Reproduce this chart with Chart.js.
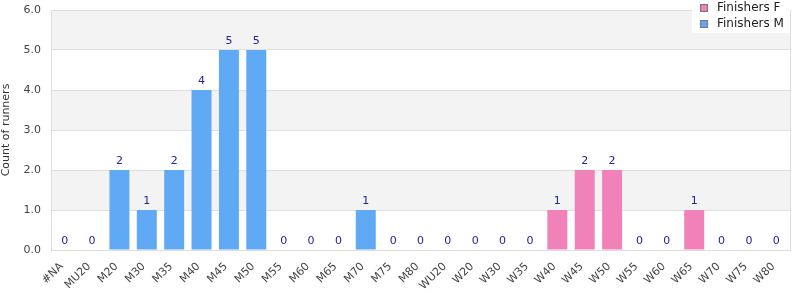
<!DOCTYPE html>
<html>
<head>
<meta charset="utf-8">
<script src="https://cdn.jsdelivr.net/npm/chart.js@4"></script>
<style>
  html, body { margin: 0; padding: 0; background: #fff; }
  #wrap { width: 800px; height: 300px; }
</style>
</head>
<body>
<div id="wrap"><canvas id="chart"></canvas></div>
<script>
// Categories (age groups)
const categories = ['#NA', 'MU20', 'M20', 'M30', 'M35', 'M40', 'M45', 'M50', 'M55', 'M60', 'M65', 'M70', 'M75', 'M80',
    'WU20', 'W20', 'W30', 'W35', 'W40', 'W45', 'W50', 'W55', 'W60', 'W65', 'W70', 'W75', 'W80'];

// Series values
const finishersF = [0, 0, 0, 0, 0, 0, 0, 0, 0, 0, 0, 0, 0, 0, 0, 0, 0, 0, 1, 2, 2, 0, 0, 1, 0, 0, 0];
const finishersM = [0, 0, 2, 1, 2, 4, 5, 5, 0, 0, 0, 1, 0, 0, 0, 0, 0, 0, 0, 0, 0, 0, 0, 0, 0, 0, 0];

// Y axis ticks
const yTicks = [0, 1, 2, 3, 4, 5, 6];

const FONT = 'DejaVu Sans';
const colorF = '#f182b9';
const colorM = '#60a9f4';
const bandColor = '#f3f3f3';
const gridColor = '#dedede';

// Alternating background bands behind the bars
const bandsPlugin = {
    id: 'bands',
    beforeDraw(chart) {
        const { ctx, chartArea, scales } = chart;
        const y = scales.y;
        ctx.save();
        ctx.fillStyle = '#fff';
        ctx.fillRect(chartArea.left, chartArea.top, chartArea.width, chartArea.height);
        ctx.fillStyle = bandColor;
        for (let i = 1; i < yTicks.length - 1; i += 2) {
            const top = y.getPixelForValue(yTicks[i + 1]);
            const bottom = y.getPixelForValue(yTicks[i]);
            ctx.fillRect(chartArea.left, top, chartArea.width, bottom - top);
        }
        ctx.restore();
    },
    afterDraw(chart) {
        // right border of plot area
        const { ctx, chartArea } = chart;
        ctx.save();
        ctx.strokeStyle = gridColor;
        ctx.lineWidth = 1;
        ctx.beginPath();
        ctx.moveTo(Math.round(chartArea.right) + 0.5, chartArea.top);
        ctx.lineTo(Math.round(chartArea.right) + 0.5, chartArea.bottom);
        ctx.stroke();
        ctx.restore();
    }
};

// Totals above each stack
const totalsPlugin = {
    id: 'totals',
    afterDatasetsDraw(chart) {
        const { ctx, scales } = chart;
        ctx.save();
        ctx.font = '11px "' + FONT + '"';
        ctx.fillStyle = '#22229a';
        ctx.textAlign = 'center';
        ctx.textBaseline = 'bottom';
        categories.forEach((c, i) => {
            const total = finishersF[i] + finishersM[i];
            const x = scales.x.getPixelForValue(i);
            const y = scales.y.getPixelForValue(total);
            ctx.fillText(String(total), x, y - 3);
        });
        ctx.restore();
    }
};

// Legend drawn inside the top-right corner of the plot
const legendPlugin = {
    id: 'cornerLegend',
    afterDraw(chart) {
        const { ctx, chartArea } = chart;
        const items = chart.data.datasets.map(d => ({ label: d.label, color: d.backgroundColor }));
        const boxW = 98;
        const left = chartArea.right - boxW;
        ctx.save();
        ctx.fillStyle = '#fff';
        ctx.fillRect(left, 0, boxW, 33);
        ctx.font = '12px "' + FONT + '"';
        ctx.textBaseline = 'middle';
        items.forEach((it, k) => {
            const cy = 8 + k * 16;
            ctx.fillStyle = it.color;
            ctx.fillRect(left + 8.5, cy - 3.5, 7, 7);
            ctx.strokeStyle = '#777';
            ctx.lineWidth = 1;
            ctx.strokeRect(left + 8.5, cy - 3.5, 7, 7);
            ctx.fillStyle = '#222';
            ctx.fillText(it.label, left + 25, cy);
        });
        ctx.restore();
    }
};

new Chart(document.getElementById('chart'), {
    type: 'bar',
    data: {
        labels: categories,
        datasets: [
            { label: 'Finishers F', data: finishersF, backgroundColor: colorF, borderWidth: 0 },
            { label: 'Finishers M', data: finishersM, backgroundColor: colorM, borderWidth: 0 }
        ]
    },
    options: {
        responsive: true,
        maintainAspectRatio: false,
        animation: false,
        layout: { padding: { top: 10, right: 10, left: 0, bottom: 0 } },
        datasets: { bar: { categoryPercentage: 1, barPercentage: 0.73 } },
        plugins: {
            legend: { display: false },
            tooltip: { enabled: false }
        },
        scales: {
            x: {
                stacked: true,
                grid: { display: false },
                border: { display: true, color: gridColor },
                ticks: {
                    autoSkip: false,
                    minRotation: 45,
                    maxRotation: 45,
                    padding: 2,
                    labelOffset: -3,
                    color: '#444',
                    font: { family: FONT, size: 11 }
                },
                afterFit(scale) { scale.height = 50; }
            },
            y: {
                stacked: true,
                min: 0,
                max: 6,
                grid: { color: gridColor, drawTicks: false },
                border: { display: true, color: gridColor },
                ticks: {
                    stepSize: 1,
                    padding: 10,
                    color: '#444',
                    font: { family: FONT, size: 11 },
                    callback: v => Number(v).toFixed(1)
                },
                title: {
                    display: true,
                    text: 'Count of runners',
                    color: '#333',
                    padding: 0,
                    font: { family: FONT, size: 11 }
                },
                afterFit(scale) {
                    scale.width = 51;
                    scale.paddingTop = 0;
                    scale.paddingBottom = 0;
                }
            }
        }
    },
    plugins: [bandsPlugin, totalsPlugin, legendPlugin]
});
</script>
</body>
</html>
